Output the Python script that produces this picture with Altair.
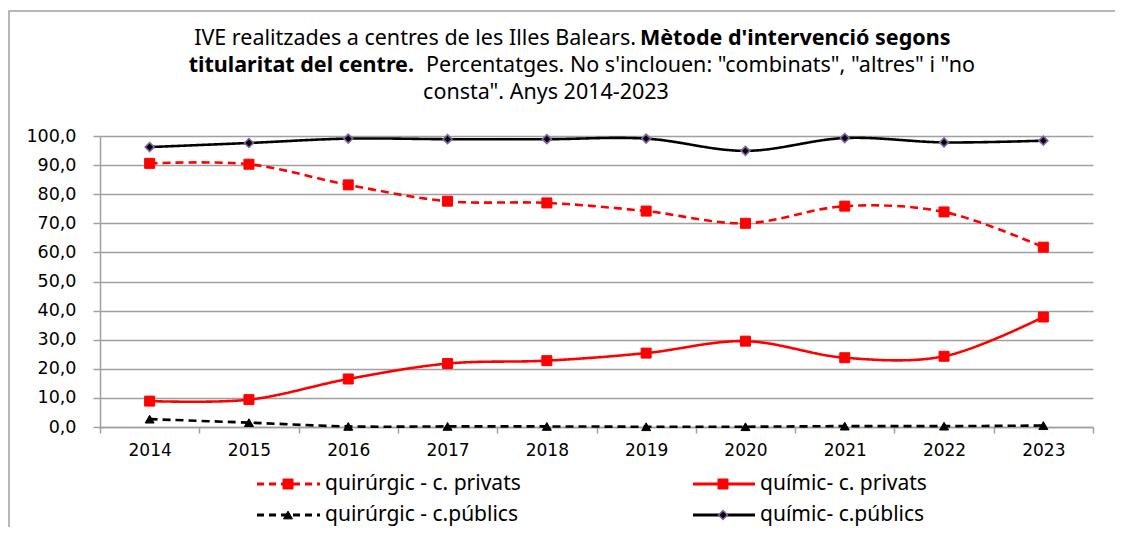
import altair as alt
import pandas as pd

years = [2014, 2015, 2016, 2017, 2018, 2019, 2020, 2021, 2022, 2023]
quir_priv = [90.6, 90.3, 83.2, 77.6, 77.0, 74.2, 70.0, 75.9, 73.9, 61.8]
quim_priv = [8.9, 9.4, 16.5, 21.8, 22.8, 25.4, 29.5, 23.8, 24.3, 37.8]
quir_pub = [2.7, 1.5, 0.2, 0.2, 0.2, 0.1, 0.1, 0.3, 0.3, 0.5]
quim_pub = [96.2, 97.6, 99.1, 98.9, 98.9, 99.1, 94.9, 99.3, 97.8, 98.4]

names = ["quirúrgic - c. privats", "químic- c. privats",
         "quirúrgic - c.públics", "químic- c.públics"]
series_values = [quir_priv, quim_priv, quir_pub, quim_pub]

y_ticks = [0, 10, 20, 30, 40, 50, 60, 70, 80, 90, 100]
x_tick_edges = [2013.5, 2014.5, 2015.5, 2016.5, 2017.5, 2018.5,
                2019.5, 2020.5, 2021.5, 2022.5, 2023.5]

title_l1_normal = "IVE realitzades a centres de les Illes Balears. "
title_l1_bold = "Mètode d'intervenció segons"
title_l2_bold = "titularitat del centre."
title_l2_normal = "Percentatges. No s'inclouen: \"combinats\", \"altres\" i \"no"
title_l3 = "consta\". Anys 2014-2023"

# styles
colors = ["#FF0000", "#FF0000", "#000000", "#000000"]
dashes = [[8, 5], [1, 0], [8, 5], [1, 0]]
shapes = ["square", "square", "triangle-up", "diamond"]
sizes = [100, 100, 80, 80]
strokes = ["#FF0000", "#FF0000", "#000000", "#8064A2"]
stroke_w = [1, 1, 1, 1.6]

rows = []
for name, vals in zip(names, series_values):
    for yr, v in zip(years, vals):
        rows.append({"series": name, "year": yr, "value": v})
df = pd.DataFrame(rows)

W, H = 993, 291
GRID = "#A0A0A0"
TXT_FONT = "Noto Sans"
AX_FONT = "DejaVu Sans"

xscale = alt.Scale(domain=[2013.5, 2023.5], nice=False, zero=False)
yscale = alt.Scale(domain=[0, 100], nice=False)

xaxis = alt.Axis(
    values=x_tick_edges, title=None, grid=False,
    labelExpr="datum.value > 2023 ? '' : format(datum.value + 0.5, 'd')",
    labelOffset=49.65, labelFlush=False, labelOverlap=False,
    labelFont=AX_FONT, labelFontSize=17, labelColor="#000000",
    labelPadding=9, tickSize=6, tickColor=GRID, tickWidth=1.5,
    domainColor=GRID, domainWidth=1.5,
)
yaxis = alt.Axis(
    values=y_ticks, tickCount=11, title=None, grid=True, gridColor=GRID, gridWidth=1.5,
    labelExpr="replace(format(datum.value, '.1f'), '.', ',')",
    labelOverlap=False, labelFlush=False,
    labelFont=AX_FONT, labelFontSize=17.5, labelColor="#000000",
    labelPadding=17, tickSize=7, tickColor=GRID, tickWidth=1.5,
    domainColor=GRID, domainWidth=1.5,
)

one = pd.DataFrame({"k": [0]})

border = alt.Chart(one).mark_rect(
    fillOpacity=0, stroke=GRID, strokeWidth=1.5
).encode(x=alt.value(-91), x2=alt.value(1200), y=alt.value(-125), y2=alt.value(600))

lines = alt.Chart(df).mark_line(interpolate="catmull-rom", strokeWidth=2.6).encode(
    x=alt.X("year:Q", scale=xscale, axis=xaxis),
    y=alt.Y("value:Q", scale=yscale, axis=yaxis),
    color=alt.Color("series:N", scale=alt.Scale(domain=names, range=colors), legend=None),
    strokeDash=alt.StrokeDash("series:N", scale=alt.Scale(domain=names, range=dashes), legend=None),
    detail="series:N",
)

layers = [border, lines]

for i, name in enumerate(names):
    pts = alt.Chart(df).transform_filter(alt.datum.series == name).mark_point(
        shape=shapes[i], filled=True, size=sizes[i], fill=colors[i],
        stroke=strokes[i], strokeWidth=stroke_w[i], opacity=1
    ).encode(x=alt.X("year:Q", scale=xscale, axis=xaxis),
             y=alt.Y("value:Q", scale=yscale, axis=yaxis))
    layers.append(pts)

# manual legend
for i, name in enumerate(names):
    col, row = i % 2, i // 2
    lx0 = [157, 593][col]
    lx1 = [220, 655][col]
    mx = [188, 623][col]
    tx = [225, 660][col]
    ly = [348, 379][row]
    d = pd.DataFrame({"s": [name]})
    if dashes[i] == [1, 0]:
        rule = alt.Chart(d).mark_rule(color=colors[i], strokeWidth=3).encode(
            x=alt.value(lx0), x2=alt.value(lx1), y=alt.value(ly))
    else:
        rule = alt.Chart(d).mark_rule(color=colors[i], strokeWidth=3, strokeDash=[7, 5]).encode(
            x=alt.value(lx0), x2=alt.value(lx1), y=alt.value(ly))
    sym = alt.Chart(d).mark_point(
        shape=shapes[i], filled=True, size=sizes[i], fill=colors[i],
        stroke=strokes[i], strokeWidth=stroke_w[i], opacity=1
    ).encode(x=alt.value(mx), y=alt.value(ly))
    txt = alt.Chart(d).mark_text(
        align="left", baseline="middle", font=TXT_FONT, fontSize=21, color="#000000"
    ).encode(x=alt.value(tx), y=alt.value(ly), text="s:N")
    layers += [rule, sym, txt]

# title (mixed weights)
def tmark(text, x, y, align, bold):
    return alt.Chart(pd.DataFrame({"t": [text]})).mark_text(
        align=align, baseline="middle", font=TXT_FONT,
        fontSize=21.5,
        fontWeight="bold" if bold else "normal", color="#000000"
    ).encode(x=alt.value(x), y=alt.value(y), text="t:N")

layers += [
    tmark(title_l1_normal, 536, -97, "right", False),
    tmark(title_l1_bold, 540, -97, "left", True),
    tmark(title_l2_bold, 314, -70, "right", True),
    tmark(title_l2_normal, 326, -70, "left", False),
    tmark(title_l3, 446, -43, "center", False),
]

chart = alt.layer(*layers).properties(
    width=W, height=H,
    autosize=alt.AutoSizeParams(type="none"),
    padding={"left": 92, "top": 128, "right": 22, "bottom": 100},
).configure_view(stroke=None)

chart.save("out.html", embed_options={"renderer": "svg", "actions": False})
